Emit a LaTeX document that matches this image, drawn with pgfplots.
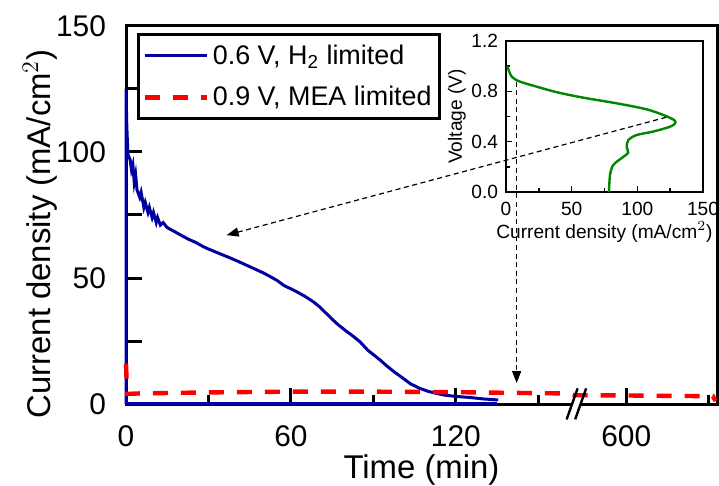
\documentclass[border=0pt]{standalone}
\usepackage{fontspec}
\setmainfont{Liberation Sans}
\usepackage{pgfplots}
\pgfplotsset{compat=1.18}
\usetikzlibrary{arrows.meta}
\definecolor{navy}{RGB}{0,0,160}
\definecolor{ired}{RGB}{255,0,0}
\definecolor{igreen}{RGB}{0,135,0}
\begin{document}
\begin{tikzpicture}
\begin{axis}[
  at={(0,0)}, anchor=south west, name=main,
  scale only axis, width=295.5bp, height=189bp,
  xmin=0, xmax=215, ymin=0, ymax=150, clip=false,
  xtick={0,60,120,182}, xticklabels={0,60,120,600},
  minor xtick={30,90,150,212},
  ytick={0,25,50,75,100,125,150}, yticklabels={0,,50,,100,,150},
  tick align=inside, tick pos=left,
  major tick length=8bp, minor tick length=4.5bp,
  axis line style={line width=1.5bp},
  every tick/.style={black, line width=1.5bp},
  /pgf/number format/assume math mode=true,
  ticklabel style={font=\fontsize{15}{17}\selectfont},
  xticklabel style={yshift=-7.5bp},
  yticklabel style={xshift=-6.5bp},
  xlabel={Time (min)}, ylabel={Current density (mA/cm$^2$)},
  label style={font=\fontsize{16.5}{19}\selectfont},
  xlabel style={at={(axis description cs:0.5,-0.175)}, anchor=center},
  ylabel style={at={(axis description cs:-0.1455,0.45)}, anchor=center},
  legend style={draw=black, line width=1.5bp, font=\fontsize{13.5}{15}\selectfont,
    at={(axis description cs:0.0186,0.981)}, anchor=north west,
    inner xsep=2bp, inner ysep=3bp, row sep=5.5bp, fill=white},
  legend cell align=left,
  legend image code/.code={\draw[#1] (0bp,0bp) -- (31bp,0bp);},
]
\addplot[navy, line width=1.5bp] coordinates {
(0,0) (0,125) (0.3,110) (0.7,99) (1.5,97) (2,93) (2.5,95) (3,88) (3.5,91) (4,85)
(5,82) (5.5,84) (6.5,78) (7,80) (8,76) (8.5,78) (9.5,74) (10,76) (11,72) (11.5,74)
(12.5,71) (13.5,72) (15,70) (17.5,68.5) (20,67) (22.5,65.5) (25.6,64) (28,62.5)
(30,61.5) (34,59.7) (37.8,58) (41,56.5) (44,55) (47,53.5) (50,52) (52.4,50.6)
(55,49) (57.5,47) (59.6,45.9) (62,44.6) (65,42.8) (68.1,40.6) (70.5,38.5) (73,35.8)
(76.6,32) (80,29) (82.5,27) (85.1,24.7) (88,21.3) (90,19.6) (92.4,17.5) (95,15)
(97.5,12.8) (100.8,10.2) (103.5,8) (106.9,6.2) (110,5) (113,4.2) (116,3.5)
(120,3.0) (125,2.6) (130,2.0) (135.4,1.6)
};
\addlegendentry{0.6 V, H\textsubscript{2} limited}
\addplot[ired, line width=2.2bp, dash pattern=on 7.5bp off 6.5bp] coordinates {
(0,16) (0.4,4.0) (5,4.2) (30,4.6) (60,4.9) (90,4.9) (120,4.7) (150,4.3) (160,4.2)
(163,3.5) (180,3.4) (200,3.2) (213.5,3.1) (214.5,1.2)
};
\addlegendentry{0.9 V, MEA limited}
\addplot[navy, line width=1.5bp, forget plot] coordinates {(0,0.3) (135,0.3)};
\coordinate (A2) at (axis cs:36.6,67);
\coordinate (V2) at (axis cs:142.1,8.3);
\fill[white] (axis cs:161.6,-1.2) -- (axis cs:164.7,-1.2) -- (axis cs:165.5,1.2) -- (axis cs:162.4,1.2) -- cycle;
\draw[black, line width=1.2bp] (axis cs:160.3,-6.1) -- (axis cs:164.3,6.2);
\draw[black, line width=1.2bp] (axis cs:163.4,-6.1) -- (axis cs:167.4,6.2);
\end{axis}
\begin{axis}[
  at={(190bp,106bp)}, anchor=south west, name=inset,
  scale only axis, width=98.5bp, height=75.5bp,
  xmin=0, xmax=150, ymin=0, ymax=1.2,
  xtick={0,50,100,150}, minor xtick={25,75,125},
  ytick={0,0.4,0.8,1.2}, minor ytick={0.2,0.6,1.0},
  tick align=inside, tick pos=left,
  major tick length=3bp, minor tick length=1.8bp,
  axis line style={line width=1bp},
  every tick/.style={black, line width=0.8bp},
  axis background/.style={fill=white},
  /pgf/number format/assume math mode=true,
  ticklabel style={font=\fontsize{9.6}{11}\selectfont},
  y tick label style={/pgf/number format/fixed, /pgf/number format/fixed zerofill, /pgf/number format/precision=1, xshift=-0.5bp},
  xticklabel style={yshift=-1.5bp},
  xlabel={Current density (mA/cm$^2$)}, ylabel={Voltage (V)},
  label style={font=\fontsize{9.6}{11}\selectfont},
  xlabel style={at={(axis description cs:0.5,-0.265)}, anchor=center},
  ylabel style={at={(axis description cs:-0.249,0.5)}, anchor=center},
]
\addplot[igreen, line width=1.2bp, smooth] coordinates {
(1,1.0) (4.3,0.917) (10.7,0.877) (23.4,0.837) (36,0.80) (48.7,0.77) (61.4,0.745)
(86.8,0.70) (107,0.657) (119.8,0.612) (128,0.572) (128.8,0.546) (125,0.519)
(112,0.48) (99.5,0.453) (93.2,0.413) (91.9,0.36) (93,0.312) (89.4,0.28)
(81.7,0.215) (79.2,0.135) (78.4,0.0)
};
\coordinate (A1) at (axis cs:122,0.594);
\coordinate (V1) at (axis cs:8.1,0.877);
\end{axis}
\draw[black, line width=0.6bp, dash pattern=on 2.5bp off 1.8bp, -{Triangle[length=6bp,width=4.5bp]}] (A1) -- (A2);
\draw[black, line width=0.6bp, dash pattern=on 2.5bp off 1.8bp, -{Triangle[length=6bp,width=4.5bp]}] (V1) -- (V1 |- V2);
\pgfresetboundingbox
\path[use as bounding box] (-63bp,-41bp) rectangle (296.5bp,202bp);
\end{tikzpicture}
\end{document}
